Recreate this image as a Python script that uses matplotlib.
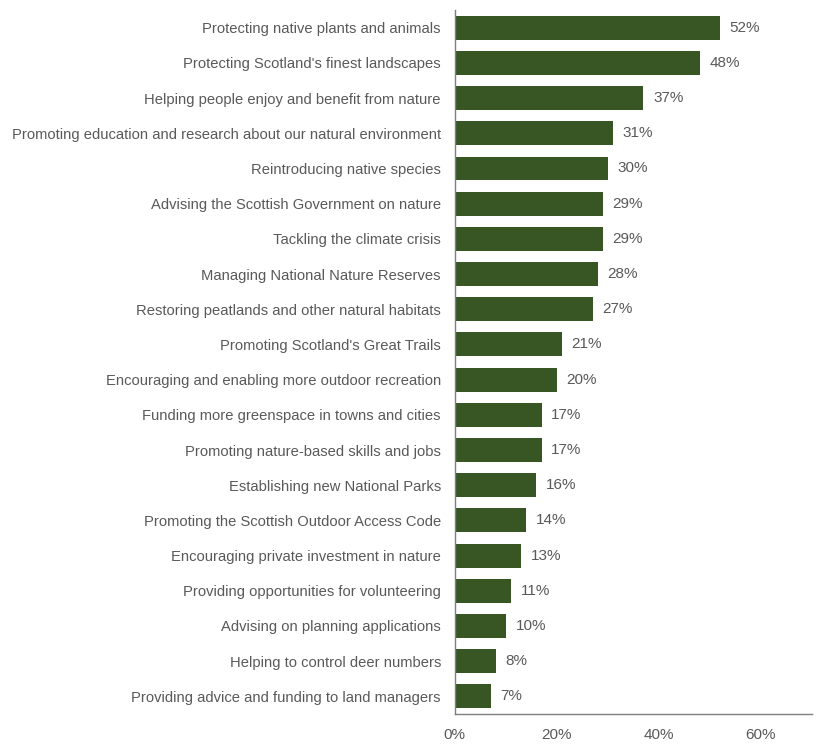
import matplotlib.pyplot as plt

plt.rcParams['font.family'] = ['Liberation Sans', 'DejaVu Sans']

categories = [
    "Protecting native plants and animals",
    "Protecting Scotland's finest landscapes",
    "Helping people enjoy and benefit from nature",
    "Promoting education and research about our natural environment",
    "Reintroducing native species",
    "Advising the Scottish Government on nature",
    "Tackling the climate crisis",
    "Managing National Nature Reserves",
    "Restoring peatlands and other natural habitats",
    "Promoting Scotland's Great Trails",
    "Encouraging and enabling more outdoor recreation",
    "Funding more greenspace in towns and cities",
    "Promoting nature-based skills and jobs",
    "Establishing new National Parks",
    "Promoting the Scottish Outdoor Access Code",
    "Encouraging private investment in nature",
    "Providing opportunities for volunteering",
    "Advising on planning applications",
    "Helping to control deer numbers",
    "Providing advice and funding to land managers",
]
values = [52, 48, 37, 31, 30, 29, 29, 28, 27, 21, 20, 17, 17, 16, 14, 13, 11, 10, 8, 7]
xticks = [0, 20, 40, 60]

bar_color = '#375623'
text_color = '#595959'

fig = plt.figure(figsize=(8.3, 7.48), dpi=100)
ax = fig.add_axes([0.548, 0.0455, 0.43, 0.941])

y = list(range(len(categories)))
ax.barh(y, values, height=0.68, color=bar_color)
for yi, v in zip(y, values):
    ax.text(v + 1.9, yi, f"{v}%", va='center', ha='left', fontsize=11, color=text_color)

ax.set_yticks(y)
ax.set_yticklabels(categories, fontsize=10.6, color=text_color)
ax.set_ylim(len(categories) - 0.5, -0.5)
ax.set_xlim(0, 70)
ax.set_xticks(xticks)
ax.set_xticklabels([f"{t}%" for t in xticks], fontsize=11, color=text_color)
ax.tick_params(axis='both', length=0)
ax.tick_params(axis='y', pad=10)
ax.tick_params(axis='x', pad=10)

for s in ['top', 'right']:
    ax.spines[s].set_visible(False)
for s in ['left', 'bottom']:
    ax.spines[s].set_color('#7f7f7f')
    ax.spines[s].set_linewidth(1)

fig.savefig('out.png', dpi=100)
